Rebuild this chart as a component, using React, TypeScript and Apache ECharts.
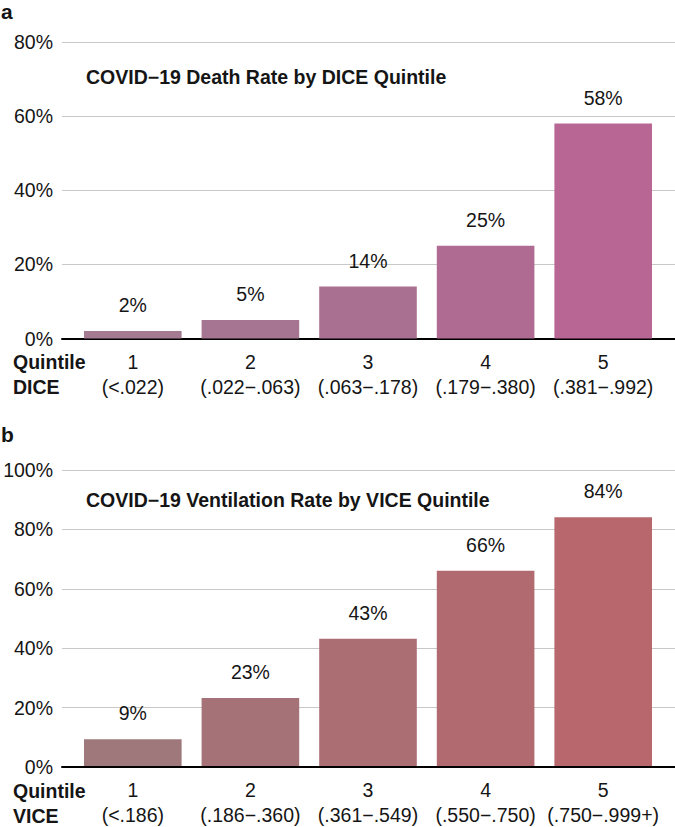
import React, { useEffect, useRef } from "react";
import * as echarts from "echarts";

const quintiles = ["1", "2", "3", "4", "5"];
const diceRanges = ["(<.022)", "(.022−.063)", "(.063−.178)", "(.179−.380)", "(.381−.992)"];
const viceRanges = ["(<.186)", "(.186−.360)", "(.361−.549)", "(.550−.750)", "(.750−.999+)"];
const deathRate = [2, 5, 14, 25, 58];
const ventilationRate = [9, 23, 43, 66, 84];
const deathAxisMax = 80;
const ventAxisMax = 100;
const tickStep = 20;

const deathTitle = "COVID−19 Death Rate by DICE Quintile";
const ventTitle = "COVID−19 Ventilation Rate by VICE Quintile";

const FONT = '"Liberation Sans", Arial, Helvetica, sans-serif';
const deathColors = ["#a47b91", "#a67591", "#a97092", "#b06b93", "#b86794"];
const ventColors = ["#9e787b", "#a47277", "#aa6e73", "#b16a6f", "#b8676c"];
const TXT = "#151515";
const FS = 19.5;

export default function App() {
  const ref = useRef<HTMLDivElement>(null);
  useEffect(() => {
    document.body.style.margin = "0";
    if (!ref.current) return;
    const chart = echarts.init(ref.current, undefined, { renderer: "svg" });

    const catAxis = (grid: number, ranges: string[]) => ({
      type: "category",
      gridIndex: grid,
      data: quintiles.map((q, i) => q + "\n" + ranges[i]),
      axisLine: { show: false },
      axisTick: { show: false },
      splitLine: { show: false },
      axisLabel: {
        interval: 0,
        margin: 11,
        lineHeight: 25,
        fontSize: FS,
        color: TXT,
        fontFamily: FONT,
      },
    });
    const baseAxis = (grid: number) => ({
      type: "value",
      gridIndex: grid,
      min: 0,
      max: 1,
      axisLine: { show: true, lineStyle: { color: "#000", width: 2 } },
      axisTick: { show: false },
      axisLabel: { show: false },
      splitLine: { show: false },
    });
    const hiddenY = (grid: number, max: number) => ({
      type: "value",
      gridIndex: grid,
      min: 0,
      max,
      show: false,
      splitLine: { show: false },
    });
    const visY = (grid: number, max: number) => ({
      type: "value",
      gridIndex: grid,
      min: 0,
      max,
      interval: tickStep,
      axisLine: { show: false },
      axisTick: { show: false },
      axisLabel: {
        formatter: "{value}%",
        margin: 9,
        fontSize: FS,
        color: TXT,
        fontFamily: FONT,
      },
      splitLine: { show: true, lineStyle: { color: "#c8c8c8", width: 1 } },
    });
    const barSeries = (axisIdx: number, values: number[], colors: string[]) => ({
      type: "bar",
      xAxisIndex: axisIdx,
      yAxisIndex: axisIdx,
      barCategoryGap: "17%",
      data: values.map((v, i) => ({ value: v, itemStyle: { color: colors[i] } })),
      label: {
        show: true,
        position: "top",
        distance: 16,
        formatter: "{c}%",
        fontSize: FS,
        color: TXT,
        fontFamily: FONT,
      },
      z: 3,
    });
    const txt = (text: string, x: number, y: number, bold: boolean, size: number) => ({
      type: "text",
      x,
      y,
      z: 10,
      style: {
        text,
        fill: TXT,
        font: `${bold ? "bold " : ""}${size}px ${FONT}`,
        verticalAlign: "middle",
        align: "left",
      },
    });

    chart.setOption({
      animation: false,
      grid: [
        { left: 74, right: 13, top: 42, height: 296.5 },
        { left: 62, right: 0, top: 42, height: 296.5 },
        { left: 74, right: 13, top: 470, height: 297 },
        { left: 62, right: 0, top: 470, height: 297 },
      ],
      xAxis: [catAxis(0, diceRanges), baseAxis(1), catAxis(2, viceRanges), baseAxis(3)],
      yAxis: [
        hiddenY(0, deathAxisMax),
        visY(1, deathAxisMax),
        hiddenY(2, ventAxisMax),
        visY(3, ventAxisMax),
      ],
      series: [barSeries(0, deathRate, deathColors), barSeries(2, ventilationRate, ventColors)],
      graphic: [
        txt("a", 1, 11, true, 21),
        txt(deathTitle, 86, 77, true, FS),
        txt("Quintile", 13, 362, true, FS),
        txt("DICE", 13, 387, true, FS),
        txt("b", 1, 434, true, 21),
        txt(ventTitle, 86, 500, true, FS),
        txt("Quintile", 13, 791, true, FS),
        txt("VICE", 13, 816, true, FS),
      ],
    });
    return () => chart.dispose();
  }, []);
  return <div ref={ref} style={{ width: 675, height: 827 }} />;
}
